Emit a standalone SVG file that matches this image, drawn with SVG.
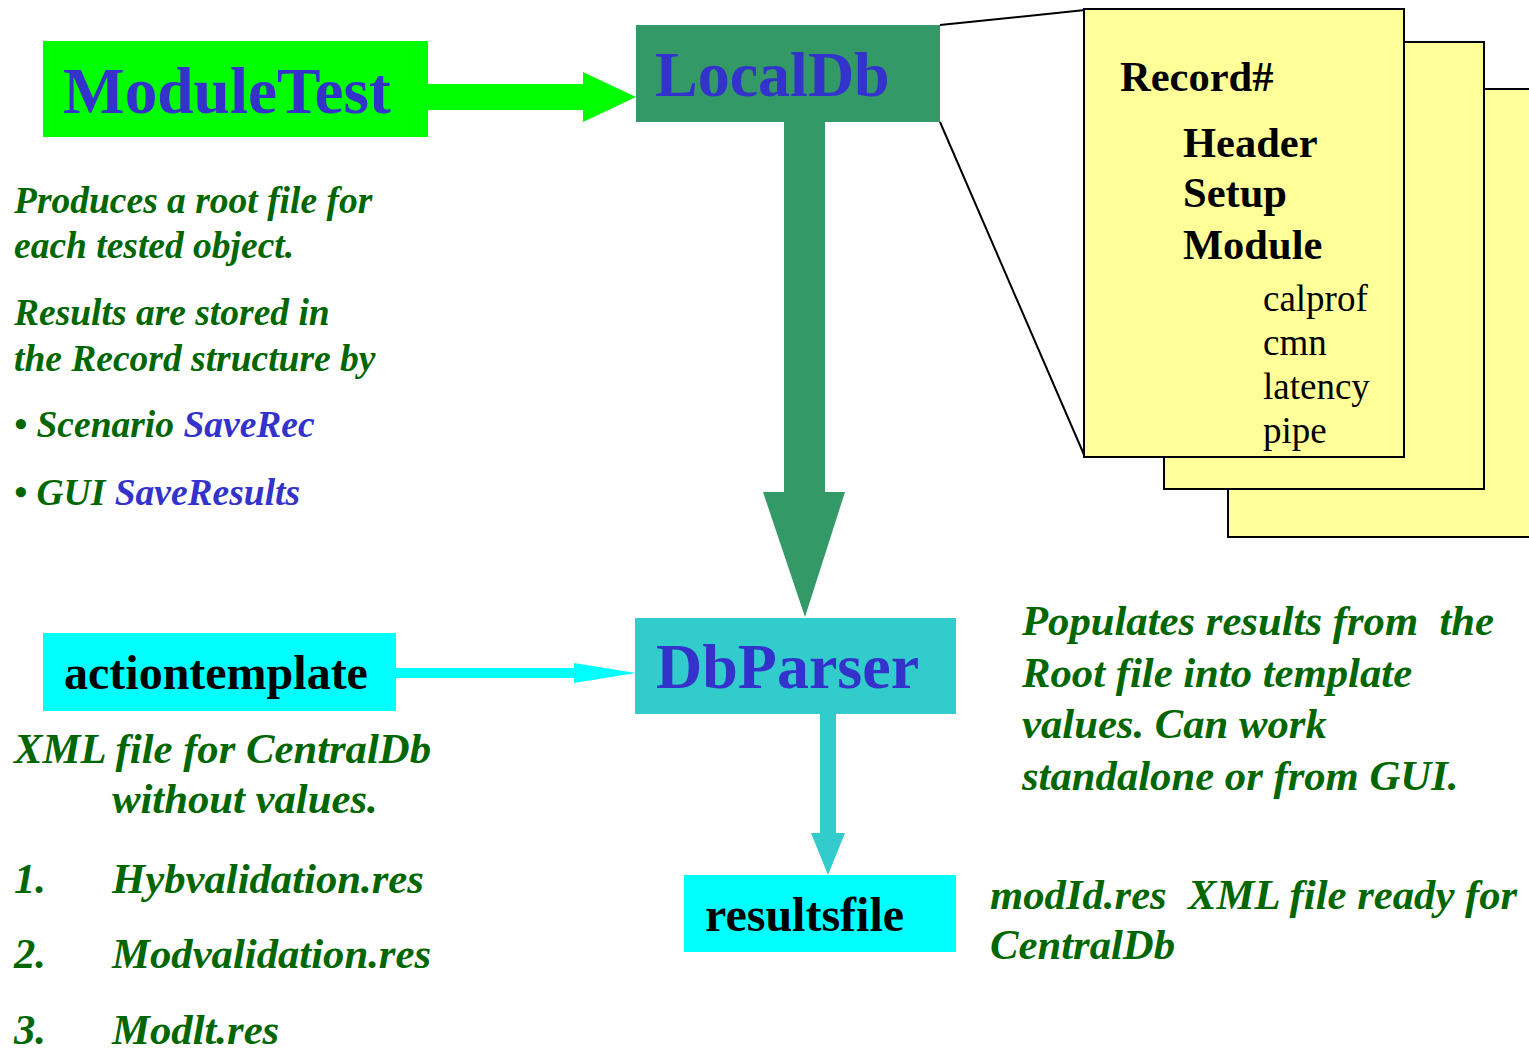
<svg xmlns="http://www.w3.org/2000/svg" width="1529" height="1048" viewBox="0 0 1529 1048">
<style>
  .title{font-family:"Liberation Serif","Times New Roman",serif;font-weight:bold;font-size:64px;fill:#3333cc}
  .blk{font-family:"Liberation Serif","Times New Roman",serif;font-weight:bold;font-size:48px;fill:#000}
  .rec{font-family:"Liberation Serif","Times New Roman",serif;font-weight:bold;font-size:42.5px;fill:#000}
  .sub{font-family:"Liberation Serif","Times New Roman",serif;font-size:37px;fill:#000}
  .note{font-family:"Liberation Serif","Times New Roman",serif;font-weight:bold;font-style:italic;fill:#006600}
  .s36{font-size:37.5px}
  .s41{font-size:42.7px}
  .blue{fill:#3333cc}
  .page{fill:#ffff99;stroke:#000;stroke-width:2}
</style>
<rect width="1529" height="1048" fill="#fff"/>

<g id="connectors">
  <polygon points="428,84 583,84 583,72 636,97 583,122 583,110 428,110" fill="#00ff00"/>
  <polygon points="784,122 825,122 825,492 845,492 805,617 763,492 784,492" fill="#339966"/>
  <polygon points="396,668 574,668 574,663 636,673 574,683 574,678 396,678" fill="#00ffff"/>
  <polygon points="820,714 836,714 836,833 845,833 828,875 811,833 820,833" fill="#33cccc"/>
  <line x1="940" y1="25" x2="1085" y2="10" stroke="#000" stroke-width="2"/>
  <line x1="940" y1="122" x2="1085" y2="457" stroke="#000" stroke-width="2"/>
</g>

<g id="record-pages">
  <rect class="page" x="1228" y="89" width="310" height="448"/>
  <rect class="page" x="1164" y="42" width="320" height="447"/>
  <rect class="page" x="1084" y="9" width="320" height="448"/>
  <text class="rec" x="1120" y="91">Record#</text>
  <text class="rec" x="1183" y="157">Header</text>
  <text class="rec" x="1183" y="207">Setup</text>
  <text class="rec" x="1183" y="259">Module</text>
  <text class="sub" x="1263" y="311">calprof</text>
  <text class="sub" x="1263" y="355">cmn</text>
  <text class="sub" x="1263" y="399">latency</text>
  <text class="sub" x="1263" y="443">pipe</text>
</g>

<g id="ModuleTest">
  <rect x="43" y="41" width="385" height="96" fill="#00ff00"/>
  <text class="title" x="63" y="113" style="font-size:65.3px">ModuleTest</text>
</g>

<g id="LocalDb">
  <rect x="636" y="25" width="304" height="97" fill="#339966"/>
  <text class="title" x="655" y="96">LocalDb</text>
</g>

<g id="actiontemplate">
  <rect x="43" y="633" width="353" height="78" fill="#00ffff"/>
  <text class="blk" x="64" y="689">actiontemplate</text>
</g>

<g id="DbParser">
  <rect x="635" y="618" width="321" height="96" fill="#33cccc"/>
  <text class="title" x="656" y="688">DbParser</text>
</g>

<g id="resultsfile">
  <rect x="684" y="875" width="272" height="77" fill="#00ffff"/>
  <text class="blk" x="705" y="931">resultsfile</text>
</g>

<g id="notes">
  <text class="note s36" x="14" y="213">Produces a root file for</text>
  <text class="note s36" x="14" y="258">each tested object.</text>
  <text class="note s36" x="14" y="325">Results are stored in</text>
  <text class="note s36" x="14" y="371">the Record structure by</text>
  <text class="note s36" x="14" y="437">• Scenario <tspan class="blue">SaveRec</tspan></text>
  <text class="note s36" x="14" y="505">• GUI <tspan class="blue">SaveResults</tspan></text>

  <text class="note s41" x="14" y="763">XML file for CentralDb</text>
  <text class="note s41" x="112" y="813">without values.</text>
  <text class="note s41" x="14" y="893">1.</text>
  <text class="note s41" x="112" y="893">Hybvalidation.res</text>
  <text class="note s41" x="14" y="968">2.</text>
  <text class="note s41" x="112" y="968">Modvalidation.res</text>
  <text class="note s41" x="14" y="1044">3.</text>
  <text class="note s41" x="112" y="1044">Modlt.res</text>

  <text class="note s41" x="1022" y="635" xml:space="preserve">Populates results from  the</text>
  <text class="note s41" x="1022" y="687">Root file into template</text>
  <text class="note s41" x="1022" y="738">values. Can work</text>
  <text class="note s41" x="1022" y="790">standalone or from GUI.</text>

  <text class="note s41" x="990" y="909" xml:space="preserve">modId.res  XML file ready for</text>
  <text class="note s41" x="990" y="959">CentralDb</text>
</g>
</svg>
